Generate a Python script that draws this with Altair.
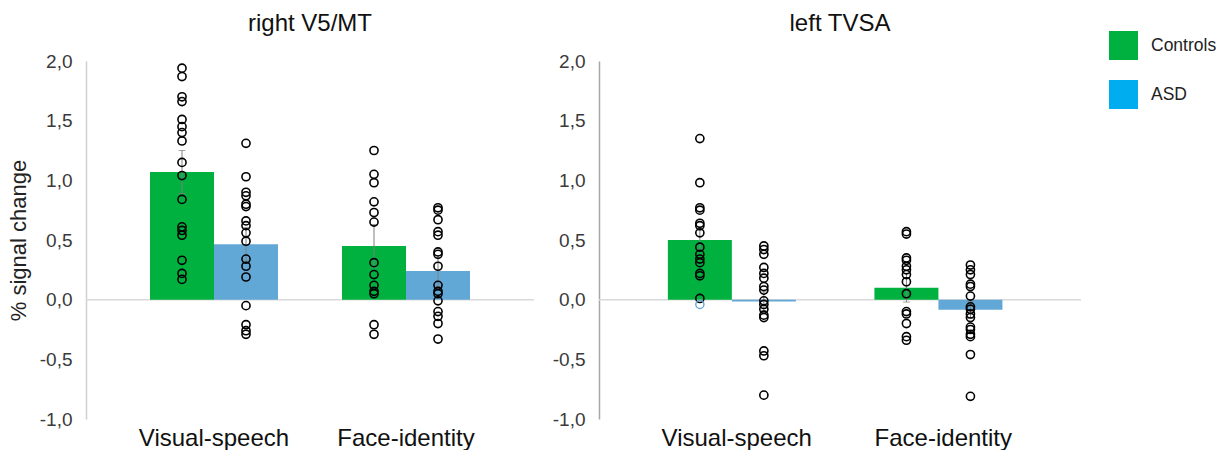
import altair as alt
import pandas as pd

# Conditions and groups
conditions = ["Visual-speech", "Face-identity"]
groups = ["Controls", "ASD"]

# Individual participant responses (% signal change), right V5/MT
v5_ctrl_vs = [1.94, 1.87, 1.70, 1.66, 1.51, 1.45, 1.40, 1.33, 1.15, 1.04, 0.84, 0.61, 0.58, 0.54, 0.33, 0.22, 0.17]
v5_asd_vs = [1.31, 1.03, 0.90, 0.87, 0.80, 0.78, 0.66, 0.62, 0.56, 0.49, 0.34, 0.28, 0.19, -0.05, -0.21, -0.26, -0.29]
v5_ctrl_fi = [1.25, 1.05, 0.98, 0.82, 0.73, 0.65, 0.31, 0.21, 0.12, 0.07, 0.05, -0.21, -0.29]
v5_asd_fi = [0.77, 0.75, 0.67, 0.57, 0.54, 0.40, 0.38, 0.28, 0.12, 0.07, 0.05, -0.01, -0.10, -0.14, -0.20, -0.33]

# Individual participant responses (% signal change), left TVSA
tvsa_ctrl_vs = [1.35, 0.98, 0.77, 0.75, 0.64, 0.62, 0.56, 0.44, 0.38, 0.34, 0.31, 0.22, 0.20, 0.01]
tvsa_asd_vs = [0.45, 0.42, 0.38, 0.27, 0.22, 0.18, 0.11, 0.08, -0.01, -0.04, -0.08, -0.13, -0.15, -0.43, -0.47, -0.80]
tvsa_ctrl_fi = [0.57, 0.55, 0.35, 0.33, 0.28, 0.25, 0.21, 0.15, 0.05, -0.10, -0.12, -0.20, -0.31, -0.34]
tvsa_asd_fi = [0.29, 0.25, 0.21, 0.13, 0.11, 0.03, -0.06, -0.08, -0.12, -0.15, -0.23, -0.25, -0.29, -0.31, -0.46, -0.81]

# Group means and standard errors: [Controls VS, ASD VS, Controls FI, ASD FI]
v5_means = [1.07, 0.465, 0.45, 0.24]
v5_se = [0.18, 0.14, 0.18, 0.13]
tvsa_means = [0.50, -0.015, 0.10, -0.085]
tvsa_se = [0.08, 0.08, 0.12, 0.07]

# Outlined markers drawn in the ASD colour (left TVSA)
tvsa_marked = [("Visual-speech", "Controls", -0.04)]

BAR_COLORS = ["#00B140", "#62A8D6"]
KEY_COLORS = ["#00B140", "#00ADEF"]
FONT = "Liberation Sans"


def points_frame(series):
    rows = []
    for (cond, grp), vals in series.items():
        for v in vals:
            rows.append({"condition": cond, "group": grp, "value": v})
    return pd.DataFrame(rows)


def bars_frame(means, ses):
    keys = [(c, g) for c in conditions for g in groups]
    rows = []
    for (c, g), m, s in zip(keys, means, ses):
        rows.append({"condition": c, "group": g, "mean": m, "lo": m - s, "hi": m + s})
    return pd.DataFrame(rows)


v5_points = points_frame({
    ("Visual-speech", "Controls"): v5_ctrl_vs,
    ("Visual-speech", "ASD"): v5_asd_vs,
    ("Face-identity", "Controls"): v5_ctrl_fi,
    ("Face-identity", "ASD"): v5_asd_fi,
})
tvsa_points = points_frame({
    ("Visual-speech", "Controls"): tvsa_ctrl_vs,
    ("Visual-speech", "ASD"): tvsa_asd_vs,
    ("Face-identity", "Controls"): tvsa_ctrl_fi,
    ("Face-identity", "ASD"): tvsa_asd_fi,
})
v5_bars = bars_frame(v5_means, v5_se)
tvsa_bars = bars_frame(tvsa_means, tvsa_se)
tvsa_marked_df = pd.DataFrame(
    [{"condition": c, "group": g, "value": v} for c, g, v in tvsa_marked]
)

y_ticks = [-1.0, -0.5, 0.0, 0.5, 1.0, 1.5, 2.0]

# Decimal comma and a plain hyphen for negative values
Y_LABEL_EXPR = "replace(replace(format(datum.value, '.1f'), '.', ','), '\u2212', '-')"


def panel(title, bars, pts, width, height, y_title, axis_color, extra=None):
    x_enc = alt.X(
        "condition:N",
        scale=alt.Scale(domain=conditions, paddingInner=1 / 3, paddingOuter=1 / 3),
        axis=alt.Axis(title=None, labelAngle=0, labelFontSize=24, labelColor="#111111",
                      labelFont=FONT, labelPadding=7, domain=False, ticks=False),
    )
    xo = alt.XOffset("group:N", scale=alt.Scale(domain=groups))
    y_scale = alt.Scale(domain=[-1, 2], nice=False)
    y_axis = alt.Axis(
        values=y_ticks,
        labelExpr=Y_LABEL_EXPR,
        labelFontSize=19, labelColor="#3a3a3a", labelFont=FONT, labelPadding=14,
        grid=False, ticks=False, domainColor=axis_color, domainWidth=1.5,
        title=y_title, titleFontSize=22, titleFontWeight="normal", titleColor="#222222",
        titleFont=FONT, titlePadding=9,
    )

    zero = alt.Chart(bars).transform_filter(
        "datum.condition == 'Visual-speech' && datum.group == 'Controls'"
    ).transform_calculate(z="0").mark_rule(color="#d9d9d9", strokeWidth=1.5).encode(
        y=alt.Y("z:Q", scale=y_scale, axis=y_axis)
    )

    bar = alt.Chart(bars).mark_bar().encode(
        x=x_enc, xOffset=xo,
        y=alt.Y("mean:Q", scale=y_scale, axis=y_axis),
        color=alt.Color("group:N", scale=alt.Scale(domain=groups, range=BAR_COLORS), legend=None),
    )
    err = alt.Chart(bars).mark_rule(color="#808080", strokeWidth=1).encode(
        x=x_enc, xOffset=xo,
        y=alt.Y("lo:Q", scale=y_scale), y2="hi:Q",
    )
    cap_lo = alt.Chart(bars).mark_tick(color="#808080", thickness=1, size=7).encode(
        x=x_enc, xOffset=xo, y=alt.Y("lo:Q", scale=y_scale),
    )
    cap_hi = alt.Chart(bars).mark_tick(color="#808080", thickness=1, size=7).encode(
        x=x_enc, xOffset=xo, y=alt.Y("hi:Q", scale=y_scale),
    )
    dots = alt.Chart(pts).mark_point(shape="circle", filled=False, color="#000000",
                                     strokeWidth=1.6, size=66, opacity=1).encode(
        x=x_enc, xOffset=xo, y=alt.Y("value:Q", scale=y_scale),
    )
    layers = [zero, bar, err, cap_lo, cap_hi, dots]
    if extra is not None:
        layers.append(
            alt.Chart(extra).mark_point(shape="circle", filled=False, color=BAR_COLORS[1],
                                        strokeWidth=1.4, size=66, opacity=1).encode(
                x=x_enc, xOffset=xo, y=alt.Y("value:Q", scale=y_scale),
            )
        )
    return alt.layer(*layers).properties(
        width=width, height=height,
        title=alt.TitleParams(title, fontSize=24, fontWeight="normal", font=FONT,
                              color="#111111", frame="group", anchor="middle", offset=16),
    )


left = panel("right V5/MT", v5_bars, v5_points, 448, 358, "% signal change", "#d0d0d0")
right = panel("left TVSA", tvsa_bars, tvsa_points, 482, 358, None, "#a6a6a6", tvsa_marked_df)

# Colour key: two swatches with their labels
key_df = pd.DataFrame({"group": groups})
key_y = alt.Y("group:N", scale=alt.Scale(type="point", domain=groups, range=[-15.5, 33.5], padding=0),
              axis=None)
key_sq = alt.Chart(key_df).mark_square(size=841, opacity=1).encode(
    x=alt.value(24.5), y=key_y,
    color=alt.Color("group:N", scale=alt.Scale(domain=groups, range=KEY_COLORS), legend=None),
)
key_txt = alt.Chart(key_df).mark_text(align="left", baseline="middle", fontSize=17.5,
                                      font=FONT, color="#222222").encode(
    x=alt.value(52), y=key_y, text="group:N",
)
key = alt.layer(key_sq, key_txt).properties(width=110, height=130)

chart = alt.hconcat(left, right, key, spacing=17).resolve_scale(
    color="independent"
).properties(
    padding={"left": 7, "top": 12, "right": 0, "bottom": 0}
).configure_view(stroke=None)

chart.save("out.html", embed_options={"renderer": "svg", "actions": False})
